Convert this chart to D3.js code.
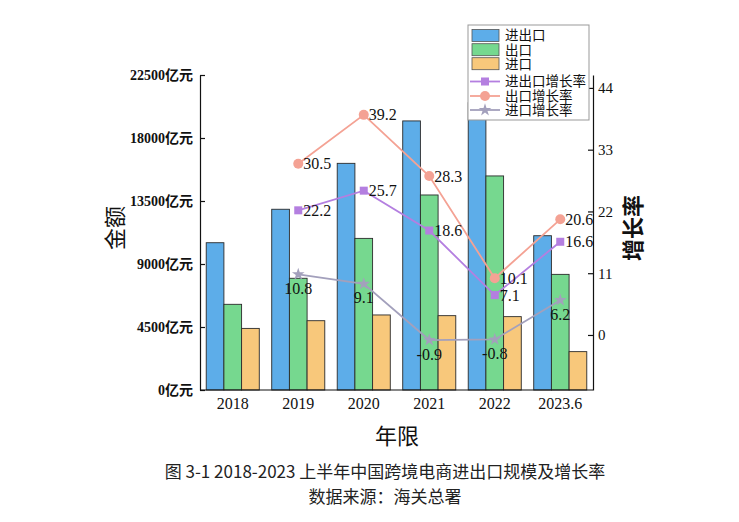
<!DOCTYPE html>
<html>
<head>
<meta charset="utf-8">
<script src="https://cdn.jsdelivr.net/npm/d3@7"></script>
<style>
  html, body { margin: 0; padding: 0; background: #fff; }
  svg { display: block; }
  .serif { font-family: "Liberation Serif", "DejaVu Serif", "Noto Sans CJK SC", serif; }
  .cjk { font-family: "Noto Sans CJK SC", "Noto Sans", sans-serif; }
</style>
</head>
<body>
<svg id="chart" width="739" height="522"></svg>
<script>
// ---- data ----
const categories = ["2018", "2019", "2020", "2021", "2022", "2023.6"];
const totalValues  = [10520, 12910, 16190, 19220, 20520, 11020];
const exportValues = [6120, 7980, 10830, 13930, 15290, 8260];
const importValues = [4400, 4950, 5360, 5310, 5240, 2740];
const growthCategories = ["2019", "2020", "2021", "2022", "2023.6"];
const totalGrowth  = [22.2, 25.7, 18.6, 7.1, 16.6];
const exportGrowth = [30.5, 39.2, 28.3, 10.1, 20.6];
const importGrowth = [10.8, 9.1, -0.9, -0.8, 6.2];
const leftTicks = [0, 4500, 9000, 13500, 18000, 22500];
const rightTicks = [0, 11, 22, 33, 44];
const barSeriesNames = ["进出口", "出口", "进口"];
const lineSeriesNames = ["进出口增长率", "出口增长率", "进口增长率"];

const barColors = ["#5DADE9", "#76D88F", "#F8C87B"];
const lineColors = ["#B47FE0", "#F4A294", "#A3A0BC"];

const svg = d3.select("#chart");
const L = 200, R = 593, T = 75, B = 390;

const x = d3.scaleBand().domain(categories).range([L, R]).paddingInner(0.19).paddingOuter(0.095);
const xs = d3.scaleBand().domain(d3.range(3)).range([0, x.bandwidth()]);
const y = d3.scaleLinear().domain([0, 22500]).range([B, T]);
const yR = d3.scaleLinear().domain([-9.8, 46.3]).range([B, T]);

// ---- bars ----
const barData = [totalValues, exportValues, importValues];
categories.forEach((c, i) => {
  barData.forEach((arr, s) => {
    svg.append("rect")
      .attr("x", x(c) + xs(s))
      .attr("y", y(arr[i]))
      .attr("width", xs.bandwidth())
      .attr("height", y(0) - y(arr[i]))
      .attr("fill", barColors[s])
      .attr("stroke", "#2b2b2b")
      .attr("stroke-width", 0.9);
  });
});

// ---- axes ----
const axL = svg.append("g").attr("transform", `translate(${L},0)`)
  .call(d3.axisLeft(y).tickValues(leftTicks).tickFormat(d => d + "亿元")
    .tickSizeInner(-5).tickSizeOuter(0).tickPadding(7));
axL.selectAll("text").attr("class", "serif").style("font-size", "14px").style("font-weight", "bold").attr("fill", "#111");

const axR = svg.append("g").attr("transform", `translate(${R},0)`)
  .call(d3.axisRight(yR).tickValues(rightTicks)
    .tickSizeInner(-5).tickSizeOuter(0).tickPadding(5));
axR.selectAll("text").attr("class", "serif").style("font-size", "15px").attr("fill", "#111");

const axB = svg.append("g").attr("transform", `translate(0,${B})`)
  .call(d3.axisBottom(x).tickSize(0).tickPadding(8));
axB.select(".domain").attr("d", `M${L},0H${R}`);
axB.selectAll("text").attr("class", "serif").style("font-size", "16px").attr("fill", "#111");

[axL, axR, axB].forEach(a => {
  a.selectAll(".domain").attr("stroke", "#111").attr("stroke-width", 1.2);
  a.selectAll(".tick line").attr("stroke", "#111").attr("stroke-width", 1.2);
});

// ---- lines ----
const cx = c => x(c) + x.bandwidth() / 2;
const lineData = [totalGrowth, exportGrowth, importGrowth];
const lineGen = arr => d3.line().x((d, i) => cx(growthCategories[i])).y(d => yR(d))(arr);
const star = d3.symbol().type(d3.symbolStar).size(50);

lineData.forEach((arr, s) => {
  svg.append("path").attr("d", lineGen(arr)).attr("fill", "none")
    .attr("stroke", lineColors[s]).attr("stroke-width", 1.8);
});
lineData.forEach((arr, s) => {
  arr.forEach((v, i) => {
    const px = cx(growthCategories[i]), py = yR(v);
    if (s === 0) {
      svg.append("rect").attr("x", px - 4).attr("y", py - 4).attr("width", 8).attr("height", 8).attr("fill", lineColors[0]);
    } else if (s === 1) {
      svg.append("circle").attr("cx", px).attr("cy", py).attr("r", 5).attr("fill", lineColors[1]);
    } else {
      svg.append("path").attr("d", star()).attr("transform", `translate(${px},${py})`).attr("fill", lineColors[2]);
    }
    const t = svg.append("text").attr("class", "serif").style("font-size", "16px").attr("fill", "#111")
      .text(v.toFixed(1));
    if (s < 2) {
      t.attr("x", px + 5).attr("y", py).attr("dy", "0.35em").attr("text-anchor", "start");
    } else {
      t.attr("x", px).attr("y", py + 14).attr("dy", "0.35em").attr("text-anchor", "middle");
    }
  });
});

// ---- legend ----
const lg = svg.append("g");
lg.append("rect").attr("x", 468).attr("y", 25).attr("width", 121).attr("height", 95)
  .attr("fill", "#fff").attr("stroke", "#999").attr("stroke-width", 1);
const rowsBar = [35.5, 49.7, 63.7];
const rowsLine = [81.5, 96, 110];
barSeriesNames.forEach((n, i) => {
  lg.append("rect").attr("x", 472).attr("y", rowsBar[i] - 6).attr("width", 27).attr("height", 12)
    .attr("fill", barColors[i]).attr("stroke", "#555").attr("stroke-width", 0.8);
  lg.append("text").attr("class", "cjk").attr("x", 505).attr("y", rowsBar[i]).attr("dy", "0.36em")
    .style("font-size", "13.5px").attr("fill", "#111").text(n);
});
lineSeriesNames.forEach((n, i) => {
  const ry = rowsLine[i];
  lg.append("line").attr("x1", 470).attr("x2", 500).attr("y1", ry).attr("y2", ry)
    .attr("stroke", lineColors[i]).attr("stroke-width", 1.8);
  if (i === 0) lg.append("rect").attr("x", 481).attr("y", ry - 4).attr("width", 8).attr("height", 8).attr("fill", lineColors[0]);
  else if (i === 1) lg.append("circle").attr("cx", 485).attr("cy", ry).attr("r", 5).attr("fill", lineColors[1]);
  else lg.append("path").attr("d", star()).attr("transform", `translate(485,${ry})`).attr("fill", lineColors[2]);
  lg.append("text").attr("class", "cjk").attr("x", 505).attr("y", ry).attr("dy", "0.36em")
    .style("font-size", "13.5px").attr("fill", "#111").text(n);
});

// ---- titles ----
svg.append("text").attr("class", "cjk").attr("transform", "translate(123,228) rotate(-90)")
  .attr("text-anchor", "middle").style("font-size", "22px").attr("fill", "#111").text("金额");
svg.append("text").attr("class", "cjk").attr("transform", "translate(641,228) rotate(-90)")
  .attr("text-anchor", "middle").style("font-size", "22px").style("font-weight", "bold").attr("fill", "#111").text("增长率");
svg.append("text").attr("class", "cjk").attr("x", 397).attr("y", 444)
  .attr("text-anchor", "middle").style("font-size", "22px").attr("fill", "#111").text("年限");
svg.append("text").attr("class", "cjk").attr("x", 385).attr("y", 478)
  .attr("text-anchor", "middle").style("font-size", "17px").attr("fill", "#222")
  .text("图 3-1 2018-2023 上半年中国跨境电商进出口规模及增长率");
svg.append("text").attr("class", "cjk").attr("x", 385).attr("y", 503)
  .attr("text-anchor", "middle").style("font-size", "17px").attr("fill", "#222")
  .text("数据来源：海关总署");
</script>
</body>
</html>
